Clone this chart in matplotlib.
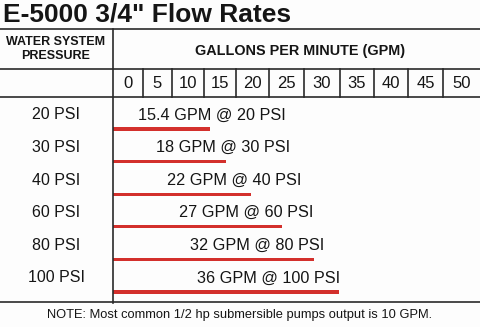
import matplotlib.pyplot as plt
from matplotlib.transforms import blended_transform_factory

plt.rcParams['font.family'] = ['Liberation Sans', 'DejaVu Sans']

# data
pressures = ["20 PSI", "30 PSI", "40 PSI", "60 PSI", "80 PSI", "100 PSI"]
psi = [20, 30, 40, 60, 80, 100]
gpm = [15.4, 18, 22, 27, 32, 36]
gpm_ticks = [0, 5, 10, 15, 20, 25, 30, 35, 40, 45, 50]

W, H = 480, 327
fig = plt.figure(figsize=(W / 100, H / 100), dpi=100)
fig.patch.set_facecolor('#fdfdfd')

def fx(px):
    return px / W

def fy(py):
    return 1 - py / H

line_c = '#2a2a2a'
text_c = '#151515'
red = '#d3302c'

# title
fig.text(fx(3), fy(14), 'E-5000 3/4" Flow Rates', fontsize=19, fontweight='bold',
         color=text_c, ha='left', va='center')

# table frame
split_x = 113
for yy in [29, 69, 97, 302]:
    fig.add_artist(plt.Line2D([0, 1], [fy(yy), fy(yy)], color=line_c, lw=1.2))
fig.add_artist(plt.Line2D([fx(split_x), fx(split_x)], [fy(29), fy(303)], color=line_c, lw=1.2))

# header
fig.text(fx(56), fy(42), 'WATER SYSTEM', fontsize=9, fontweight='bold', color=text_c,
         ha='center', va='center')
fig.text(fx(56), fy(56), 'PRESSURE', fontsize=9, fontweight='bold', color=text_c,
         ha='center', va='center')
fig.text(fx(300), fy(51), 'GALLONS PER MINUTE (GPM)', fontsize=10.4, fontweight='bold',
         color=text_c, ha='center', va='center')

# gpm scale cells
col_edges = [113, 143, 172, 204, 236, 269, 304, 340, 374, 408, 443, 480]
for e in col_edges[1:-1]:
    fig.add_artist(plt.Line2D([fx(e), fx(e)], [fy(69), fy(97)], color=line_c, lw=1.2))
for k, t in enumerate(gpm_ticks):
    c = (col_edges[k] + col_edges[k + 1]) / 2
    fig.text(fx(c), fy(83), str(t), fontsize=12, color=text_c, ha='center', va='center')

# bars
px_per_gpm = 6.27
ax = fig.add_axes([fx(split_x), fy(302), fx(W - split_x), (302 - 97) / H])
ax.set_xlim(0, (W - split_x) / px_per_gpm)
row_px = 32.6
ax.set_ylim((302 - 129) / row_px, (97 - 129) / row_px)
ax.axis('off')
rows = list(range(len(gpm)))
ax.barh(rows, gpm, height=0.1, left=0, color=red)

lab_tr = blended_transform_factory(fig.transFigure, ax.transData)
for i, (p, g, s) in enumerate(zip(pressures, gpm, psi)):
    ax.text(fx(56), i - 0.43, p, transform=lab_tr, fontsize=11.5, color=text_c,
            ha='center', va='center')
    g_txt = ('%g' % g)
    ax.text(15.8 + 1.79 * i, i - 0.43, '%s GPM @ %d PSI' % (g_txt, s), fontsize=11.7,
            color=text_c, ha='center', va='center')

# footnote
fig.text(fx(240), fy(315), 'NOTE: Most common 1/2 hp submersible pumps output is 10 GPM.',
         fontsize=9.3, color=text_c, ha='center', va='center')

plt.savefig('out.png', dpi=100, facecolor=fig.get_facecolor())
